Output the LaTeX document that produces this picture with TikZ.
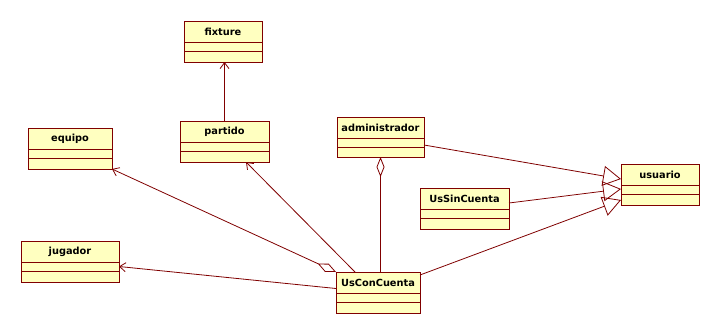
\documentclass[tikz,border=0pt]{standalone}
\usepackage{fontspec}
\setmainfont{DejaVu Sans}
\usetikzlibrary{arrows.meta,calc}
\definecolor{clsfill}{RGB}{255,255,192}
\definecolor{clsdraw}{RGB}{128,0,0}
\tikzset{
  clsbox/.style={draw=clsdraw, fill=clsfill, line width=0.9pt, inner sep=0pt, outer sep=0pt},
  clsname/.style={font=\fontsize{9.8}{11}\selectfont\bfseries, inner sep=0pt, text=black},
  link/.style={draw=clsdraw, line width=0.8pt},
  nav/.style={link, -{Straight Barb[length=6pt, width=9pt]}},
  aggr/.style={link, {Diamond[open, length=20pt, width=9pt]}-{Straight Barb[length=6pt, width=9pt]}},
  aggrplain/.style={link, {Diamond[open, length=20pt, width=8pt]}-},
  gen/.style={link, -{Triangle[open, length=18pt, width=20pt]}},
}
% UML class: node name, x1, y1, x2, y2, label (name compartment 21, attributes 9)
\newcommand\umlclass[6]{%
  \node[clsbox, minimum width={(#4-#2)*1pt}, minimum height={(#5-#3)*1pt}]
    (#1) at ({(#2+#4)/2},{(#3+#5)/2}) {};
  \node[clsname] (#1-label) at ({(#2+#4)/2},{#3+10.5}) {#6};
  \draw[clsdraw, line width=0.9pt] (#2,{#3+21}) -- (#4,{#3+21});
  \draw[clsdraw, line width=0.9pt] (#2,{#3+30}) -- (#4,{#3+30});
}
\begin{document}
\begin{tikzpicture}[x=1pt, y=-1pt]
  \useasboundingbox[fill=white] (0,0) rectangle (719,334);

  \umlclass{fixture}{184}{21}{262}{62}{fixture}
  \umlclass{partido}{180}{121}{269}{162}{partido}
  \umlclass{equipo}{28}{128}{112}{169}{equipo}
  \umlclass{jugador}{21}{241}{119}{282}{jugador}
  \umlclass{administrador}{337}{117}{424}{157}{administrador}
  \umlclass{UsSinCuenta}{420}{188}{509}{229}{UsSinCuenta}
  \umlclass{usuario}{621}{164}{699}{205}{usuario}
  \umlclass{UsConCuenta}{336}{272}{420}{313}{UsConCuenta}

  % navigable associations
  \draw[nav] (partido.north) -- (partido.north |- fixture.south);
  \draw[nav] ($(UsConCuenta.north west)+(19,0)$) -- ($(partido.south east)+(-23,0)$);
  \draw[nav] ($(UsConCuenta.west)+(0,-4)$) -- ($(jugador.east)+(0,5)$);
  \draw[aggr] (UsConCuenta.north west) -- (equipo.south east);

  % aggregation from administrador
  \draw[aggrplain] (administrador.south) -- (administrador.south |- UsConCuenta.north);

  % generalizations towards usuario
  \draw[gen] ($(administrador.north east)+(0,28)$) -- ($(usuario.north west)+(0,15)$);
  \draw[gen] ($(UsSinCuenta.north east)+(0,15)$) -- ($(usuario.north west)+(0,25)$);
  \draw[gen] ($(UsConCuenta.north east)+(0,3)$) -- ($(usuario.north west)+(0,36)$);
\end{tikzpicture}
\end{document}
